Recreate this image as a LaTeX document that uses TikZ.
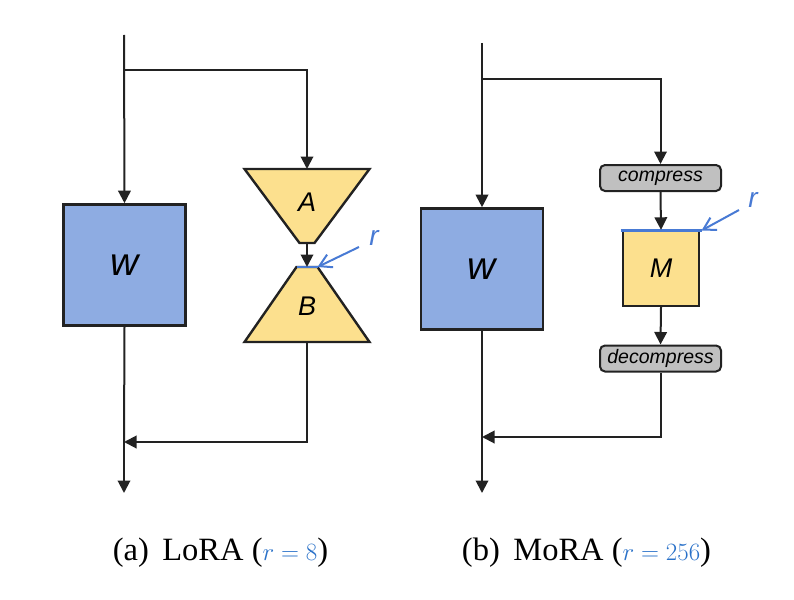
\documentclass[tikz,border=0pt]{standalone}
\usepackage[no-math]{fontspec}
\setmainfont{Liberation Serif}
\setsansfont{Liberation Sans}
\usetikzlibrary{arrows.meta,positioning}
\definecolor{wblue}{RGB}{142,172,226}
\definecolor{ayellow}{RGB}{252,224,142}
\definecolor{cgray}{RGB}{192,192,192}
\definecolor{rblue}{RGB}{72,122,212}
\definecolor{capblue}{RGB}{40,112,200}
\definecolor{ink}{RGB}{34,34,34}
\tikzset{
  flow/.style={draw=ink,line width=2pt,-{Triangle[length=12.5pt,width=12.5pt]}},
  plain/.style={draw=ink,line width=2pt},
  wbox/.style={draw=ink,line width=2.6pt,fill=wblue,minimum width=122pt,minimum height=121pt,inner sep=0pt,font=\sffamily\itshape\fontsize{39}{40}\selectfont},
  ybox/.style={draw=ink,line width=2.4pt,fill=ayellow,minimum width=76pt,minimum height=75pt,inner sep=0pt,font=\sffamily\itshape\fontsize{27}{30}\selectfont},
  trap/.style={draw=ink,line width=2.4pt,fill=ayellow,line join=miter},
  lbl/.style={font=\sffamily\itshape\fontsize{27}{30}\selectfont,inner sep=0pt},
  gbox/.style={draw=ink,line width=2pt,fill=cgray,rounded corners=5pt,minimum width=121pt,minimum height=26pt,inner sep=0pt,font=\sffamily\itshape\fontsize{19.5}{21}\selectfont},
  rline/.style={draw=rblue,line width=2.4pt},
  rarrow/.style={draw=rblue,line width=2pt,-{Straight Barb[length=12pt,width=14pt]}},
  rlbl/.style={text=rblue,font=\sffamily\itshape\fontsize{28}{30}\selectfont,inner sep=0pt},
  captext/.style={font=\fontsize{32.5}{36}\selectfont,inner sep=0pt}
}
\begin{document}
\begin{tikzpicture}[x=1pt,y=-1pt]
\useasboundingbox (0,0) rectangle (794,599);
% ---------- (a) LoRA ----------
\coordinate (s1) at (124,35);
\coordinate (j1) at (124,70);
\node[wbox] (W1) at (124.5,265) {w};
% A trapezoid
\coordinate (Atop) at (307,169);
\coordinate (Abot) at (307,243);
\path[trap] (244.5,169) -- (369.5,169) -- (314.5,243) -- (299.5,243) -- cycle;
\node[lbl] (A) at (307,202) {A};
% B trapezoid
\coordinate (Btop) at (307,267);
\coordinate (Bbot) at (307,342);
\path[trap] (296.5,267) -- (317.5,267) -- (369.5,342) -- (244.5,342) -- cycle;
\node[lbl] (B) at (307,306) {B};
\coordinate (Bl) at (296.5,267);
\coordinate (Br) at (317.5,267);
\draw[rline] (Bl) -- (Br);
\coordinate (rA0) at (359,247);
\draw[rarrow] (rA0) -- (Br);
\node[rlbl] (rA) at (374,238) {r};
\coordinate (m1) at (124,442);
\coordinate (e1) at (124,493);
\draw[flow] (s1) -- (W1.north);
\draw[flow] (j1) -| (Atop);
\draw[flow] (Abot) -- (Btop);
\draw[plain] (W1.south) -- (m1);
\draw[flow] (m1) -- (e1);
\draw[flow] (Bbot) |- (m1);
% ---------- (b) MoRA ----------
\coordinate (s2) at (482,43);
\coordinate (j2) at (482,79);
\node[wbox] (W2) at (482,269) {w};
\node[gbox] (C) at (660.5,178) {compress};
\node[ybox] (M) at (661,268.5) {M};
\node[gbox] (D) at (660.5,358.5) {decompress};
\coordinate (Ml) at (620.5,230.5);
\coordinate (Mr) at (701.5,230.5);
\draw[rline] (Ml) -- (Mr);
\coordinate (rM0) at (739,210);
\draw[rarrow] (rM0) -- (Mr);
\node[rlbl] (rM) at (753,200) {r};
\coordinate (m2) at (482,437);
\coordinate (e2) at (482,493);
\draw[flow] (s2) -- (W2.north);
\draw[flow] (j2) -| (C.north);
\draw[flow] (C.south) -- (M.north);
\draw[flow] (M.south) -- (D.north);
\draw[plain] (W2.south) -- (m2);
\draw[flow] (m2) -- (e2);
\draw[flow] (D.south) |- (m2);
% ---------- captions ----------
\node[captext] (capA) at (220.5,553) {(a)\, LoRA (\textcolor{capblue}{$r=8$})};
\node[captext] (capB) at (586.5,553) {(b)\, MoRA (\textcolor{capblue}{$r=256$})};
\end{tikzpicture}
\end{document}
